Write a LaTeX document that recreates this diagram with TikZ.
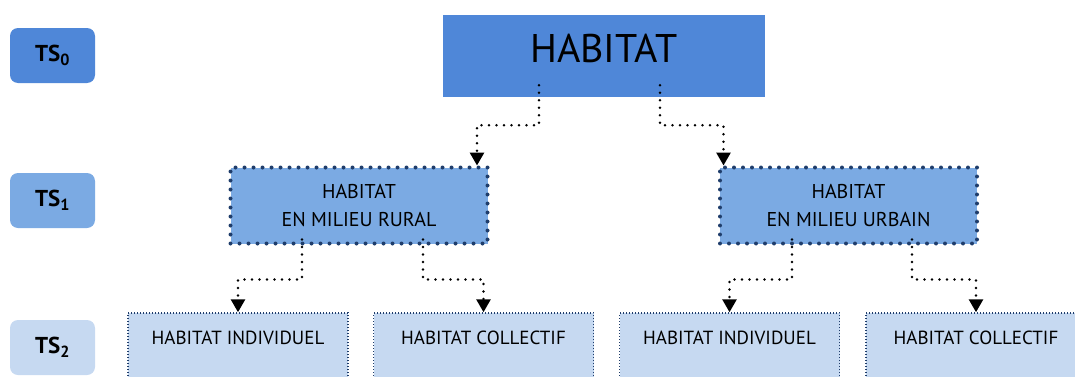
\documentclass[tikz,border=0pt]{standalone}
\usepackage{fontspec}
\setmainfont{PT Sans}
\usetikzlibrary{arrows.meta}
\definecolor{tsDark}{HTML}{4F87D8}
\definecolor{tsMid}{HTML}{7BAAE3}
\definecolor{tsLight}{HTML}{C6D9F1}
\definecolor{navyDot}{HTML}{1F3D6B}

\begin{document}
\begin{tikzpicture}[
        x=1pt, y=1pt,
        level/.style={rounded corners=8pt, minimum width=85pt, minimum height=55pt, font=\fontsize{23}{27}\selectfont\bfseries}, % TS labels on the left
        topbox/.style={fill=tsDark, minimum width=322pt, minimum height=82pt, text height=30pt, text depth=18pt, font=\fontsize{40}{48}\selectfont},
        midbox/.style={fill=tsMid, draw=navyDot, line width=4pt, line cap=round, dash pattern=on 0pt off 9pt, minimum width=257pt, minimum height=76pt, align=center, font=\fontsize{20}{28}\selectfont},
        lowbox/.style={fill=tsLight, draw=navyDot, line width=1.5pt, dash pattern=on 1pt off 2pt, minimum width=220pt, minimum height=80pt, text height=14pt, text depth=32pt, font=\fontsize{19}{23}\selectfont},
        link/.style={-{Triangle[width=14pt,length=13pt]}, line width=2.8pt, line cap=round, dash pattern=on 0pt off 7.5pt} % dotted connector
    ]
    \useasboundingbox (0,0) rectangle (1075,376);
    \clip (0,0) rectangle (1075,376);

    \node[level, fill=tsDark] (ts0) at (52.5,320.5) {TS\textsubscript{0}};
    \node[level, fill=tsMid] (ts1) at (52.5,175.5) {TS\textsubscript{1}};
    \node[level, fill=tsLight] (ts2) at (52.5,28.5) {TS\textsubscript{2}};

    \node[topbox] (top) at (604,320) {HABITAT};

    \node[midbox] (rural) at (359,170.5) {HABITAT\\EN MILIEU RURAL};
    \node[midbox] (urban) at (848.5,170.5) {HABITAT\\EN MILIEU URBAIN};

    \node[lowbox] (rindiv) at (238,23) {HABITAT INDIVIDUEL};
    \node[lowbox] (rcoll) at (483.5,23) {HABITAT COLLECTIF};
    \node[lowbox] (uindiv) at (729.5,23) {HABITAT INDIVIDUEL};
    \node[lowbox] (ucoll) at (976,23) {HABITAT COLLECTIF};

    \draw[link] ([xshift=-65pt,yshift=12pt]top.south) -- ++(0,-40) -| ([xshift=118pt]rural.north);
    \draw[link] ([xshift=56pt,yshift=12pt]top.south) -- ++(0,-40) -| ([xshift=-125pt]urban.north);

    \draw[link] ([xshift=-57pt,yshift=6pt]rural.south) -- ++(0,-40) -| (rindiv.north);
    \draw[link] ([xshift=64pt,yshift=6pt]rural.south) -- ++(0,-40) -| (rcoll.north);
    \draw[link] ([xshift=-56.5pt,yshift=6pt]urban.south) -- ++(0,-40) -| (uindiv.north);
    \draw[link] ([xshift=63.5pt,yshift=6pt]urban.south) -- ++(0,-40) -| (ucoll.north);
\end{tikzpicture}
\end{document}
